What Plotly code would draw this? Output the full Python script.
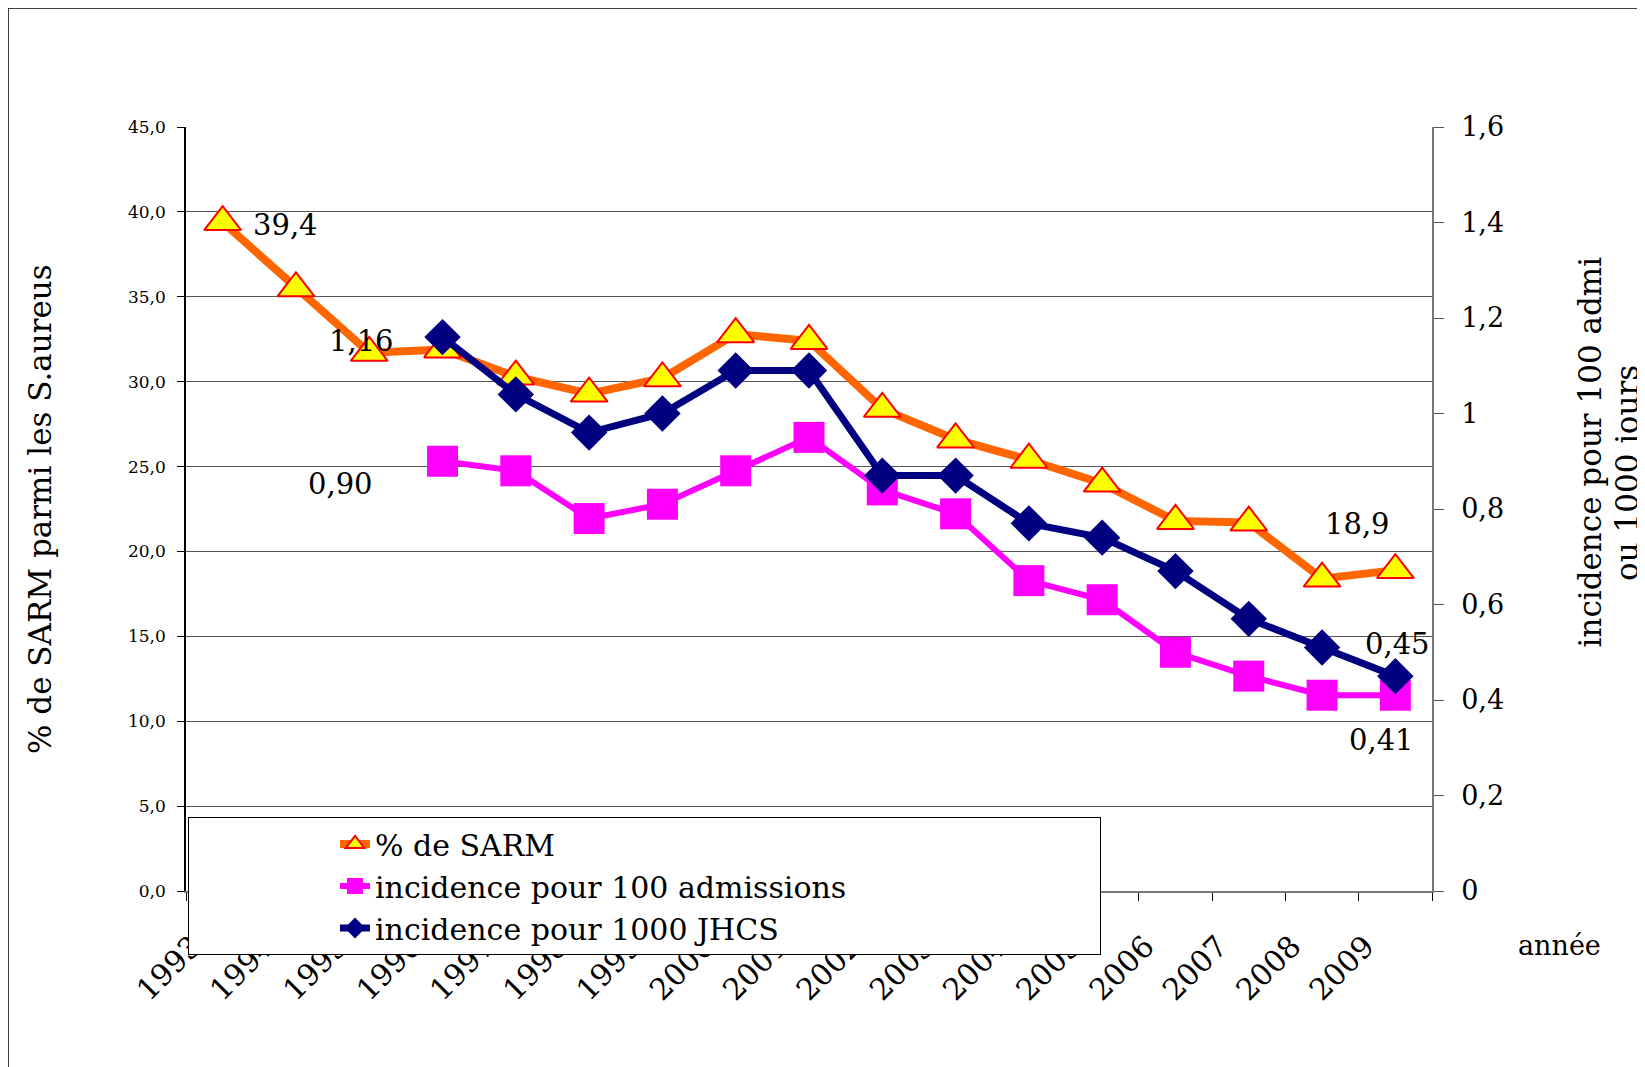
import plotly.graph_objects as go

# ---------------- data ----------------
years = [str(y) for y in range(1993, 2010)]
years_inc = [str(y) for y in range(1996, 2010)]

sarm_pct = [39.4, 35.5, 31.7, 31.9, 30.3, 29.3, 30.2, 32.8, 32.4, 28.4,
            26.6, 25.4, 24.0, 21.8, 21.7, 18.4, 18.9]
inc_100_adm = [0.90, 0.88, 0.78, 0.81, 0.88, 0.95, 0.84, 0.79, 0.65, 0.61,
               0.50, 0.45, 0.41, 0.41]
inc_1000_jhcs = [1.16, 1.04, 0.96, 1.00, 1.09, 1.09, 0.87, 0.87, 0.77, 0.74,
                 0.67, 0.57, 0.51, 0.45]

series_names = ["% de SARM", "incidence pour 100 admissions", "incidence pour 1000 JHCS"]

left_tickvals = [0, 5, 10, 15, 20, 25, 30, 35, 40, 45]
left_ticktext = ["0,0", "5,0", "10,0", "15,0", "20,0", "25,0", "30,0", "35,0", "40,0", "45,0"]
right_tickvals = [0, 0.2, 0.4, 0.6, 0.8, 1.0, 1.2, 1.4, 1.6]
right_ticktext = ["0", "0,2", "0,4", "0,6", "0,8", "1", "1,2", "1,4", "1,6"]

left_title = "% de SARM parmi les S.aureus"
right_title_1 = "incidence pour 100 admi"
right_title_2 = "ou 1000 jours"
x_title = "année"

FONT = "DejaVu Serif"

# ---------------- layout geometry ----------------
OFF = 8  # page body margin offset
W, H = 1645, 1067
PL, PR, PT, PB = 186, 1432, 127, 891   # plot area in page pixels
L = PL - OFF
T = PT - OFF
R = W - (PR - OFF)
B = H - (PB - OFF)
PW = PR - PL
PH = PB - PT


def px_x(px):
    return (px - PL) / PW


def px_y(py):
    return (PB - py) / PH


fig = go.Figure()

fig.add_trace(go.Scatter(
    x=years, y=sarm_pct, name=series_names[0], mode="lines+markers",
    line=dict(color="#FF6600", width=8),
    marker=dict(symbol="triangle-up", size=32, color="#FFFF00",
                line=dict(color="#FF0000", width=2)),
    yaxis="y",
))
fig.add_trace(go.Scatter(
    x=years_inc, y=inc_100_adm, name=series_names[1], mode="lines+markers",
    line=dict(color="#FF00FF", width=6),
    marker=dict(symbol="square", size=31, color="#FF00FF"),
    yaxis="y2",
))
fig.add_trace(go.Scatter(
    x=years_inc, y=inc_1000_jhcs, name=series_names[2], mode="lines+markers",
    line=dict(color="#000080", width=7),
    marker=dict(symbol="diamond", size=28, color="#000080"),
    yaxis="y2",
))

annotations = []
lab_font = dict(family=FONT, size=29, color="black")


def fmt(v, nd):
    return f"{v:.{nd}f}".replace(".", ",")


i_first = years.index(years[0])
i_first_inc = years.index(years_inc[0])
i_last = years.index(years[-1])

# data labels (positioned from data points via the axes; x = category index)
annotations.append(dict(x=i_first, y=sarm_pct[0], xref="x", yref="y",
                        text=fmt(sarm_pct[0], 1), showarrow=False,
                        xshift=63, yshift=-3, font=lab_font))
annotations.append(dict(x=i_first_inc, y=inc_1000_jhcs[0], xref="x", yref="y2",
                        text=fmt(inc_1000_jhcs[0], 2), showarrow=False,
                        xshift=-81, yshift=-4, font=lab_font))
annotations.append(dict(x=i_first_inc, y=inc_100_adm[0], xref="x", yref="y2",
                        text=fmt(inc_100_adm[0], 2), showarrow=False,
                        xshift=-102, yshift=-23, font=lab_font))
annotations.append(dict(x=i_last, y=sarm_pct[-1], xref="x", yref="y",
                        text=fmt(sarm_pct[-1], 1), showarrow=False,
                        xshift=-38, yshift=46, font=lab_font))
annotations.append(dict(x=i_last, y=inc_1000_jhcs[-1], xref="x", yref="y2",
                        text=fmt(inc_1000_jhcs[-1], 2), showarrow=False,
                        xshift=2, yshift=32, font=lab_font))
annotations.append(dict(x=i_last, y=inc_100_adm[-1], xref="x", yref="y2",
                        text=fmt(inc_100_adm[-1], 2), showarrow=False,
                        xshift=-14, yshift=-45, font=lab_font))

# axis titles
annotations.append(dict(x=px_x(40), y=px_y(509), xref="paper", yref="paper",
                        text=left_title, textangle=-90, showarrow=False,
                        xanchor="center", yanchor="middle",
                        font=dict(family=FONT, size=31, color="black")))
annotations.append(dict(x=px_x(1589), y=px_y(650), xref="paper", yref="paper",
                        text=right_title_1, textangle=-90, showarrow=False,
                        xanchor="center", yanchor="bottom",
                        font=dict(family=FONT, size=31, color="black")))
annotations.append(dict(x=px_x(1627), y=px_y(583), xref="paper", yref="paper",
                        text=right_title_2, textangle=-90, showarrow=False,
                        xanchor="center", yanchor="bottom",
                        font=dict(family=FONT, size=31, color="black")))
annotations.append(dict(x=px_x(1560), y=px_y(946), xref="paper", yref="paper",
                        text=x_title, showarrow=False,
                        xanchor="center", yanchor="middle",
                        font=dict(family=FONT, size=27, color="black")))

shapes = [
    # outer chart frame (left and top edges)
    dict(type="line", xref="paper", yref="paper",
         x0=px_x(8), x1=px_x(8), y0=px_y(1075), y1=px_y(8),
         line=dict(color="black", width=1.5)),
    dict(type="line", xref="paper", yref="paper",
         x0=px_x(8), x1=px_x(1660), y0=px_y(8), y1=px_y(8),
         line=dict(color="black", width=1.5)),
]

fig.update_layout(
    width=W, height=H,
    margin=dict(l=L, r=R, t=T, b=B, pad=0),
    paper_bgcolor="white", plot_bgcolor="white",
    font=dict(family=FONT, color="black"),
    showlegend=True,
    legend=dict(x=px_x(188), y=px_y(817), xanchor="left", yanchor="top",
                orientation="h", entrywidthmode="pixels", entrywidth=720,
                indentation=146,
                bgcolor="white", bordercolor="black", borderwidth=1,
                font=dict(family=FONT, size=30, color="black"),
                tracegroupgap=0),
    xaxis=dict(type="category", categoryorder="array", categoryarray=years,
               range=[-0.5, len(years) - 0.5],
               showline=True, linecolor="#777", linewidth=1.5,
               ticks="outside", tickson="boundaries", ticklen=8,
               tickcolor="black", tickangle=-45,
               tickfont=dict(family=FONT, size=30, color="black"),
               ticklabelshift=-30, ticklabelstandoff=24,
               showgrid=False, zeroline=False),
    yaxis=dict(range=[0, 45], tickmode="array", tickvals=left_tickvals,
               ticktext=left_ticktext,
               tickfont=dict(family=FONT, size=17, color="black"),
               showgrid=True, gridcolor="#555", gridwidth=1.2,
               showline=True, linecolor="black", linewidth=1.5,
               ticks="outside", ticklen=7, tickcolor="black",
               ticklabelstandoff=8, zeroline=False),
    yaxis2=dict(range=[0, 1.6], overlaying="y", side="right",
                tickmode="array", tickvals=right_tickvals,
                ticktext=right_ticktext,
                tickfont=dict(family=FONT, size=27, color="black"),
                showgrid=False, showline=True, linecolor="#777", linewidth=1.5,
                ticks="outside", ticklen=10, tickcolor="#555",
                ticklabelstandoff=12, zeroline=False),
    annotations=annotations,
    shapes=shapes,
)

fig.write_html("out.html")
